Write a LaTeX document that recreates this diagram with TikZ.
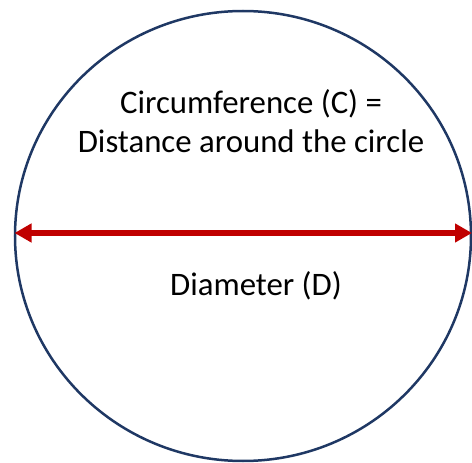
\documentclass[tikz,border=0pt]{standalone}
\usepackage{fontspec}
\setmainfont{Carlito}
\usepackage{tikz}
\usetikzlibrary{shapes,positioning,calc,arrows.meta}
\usepackage{xcolor}
\definecolor{rimnavy}{RGB}{31,56,100}
\definecolor{diamred}{RGB}{192,0,0}

\begin{document}
\begin{tikzpicture}[x=1pt,y=-1pt,every node/.style={font=\fontsize{32.8}{39}\selectfont,text=black,inner sep=0pt}]
    \useasboundingbox (0,0) rectangle (472,463);
    \node[ellipse,draw=rimnavy,line width=2.5pt,minimum width=456pt,minimum height=450pt] (rim) at (243,236) {};
    % diameter arrow
    \coordinate (dleft) at (14.5,233);
    \coordinate (dright) at (472,233);
    \draw[diamred,line width=5.5pt,{Triangle[length=17pt,width=18pt]}-{Triangle[length=17pt,width=18pt]}] (dleft) -- (dright);
    \node[anchor=base,align=center] (circum) at (251,152) {Circumference (C) =\\Distance around the circle};
    \node[anchor=base] (diam) at (256,295) {Diameter (D)};
\end{tikzpicture}
\end{document}
